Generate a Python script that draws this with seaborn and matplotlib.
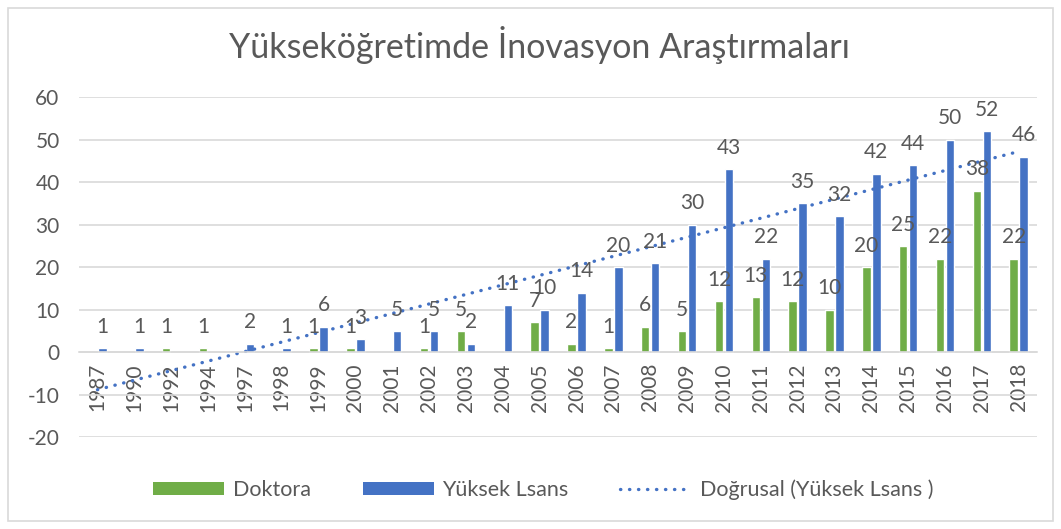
import matplotlib.pyplot as plt
import numpy as np
import pandas as pd
import seaborn as sns
from matplotlib.lines import Line2D
from matplotlib.patches import Patch, Rectangle


years = ["1987", "1990", "1992", "1994", "1997", "1998", "1999", "2000", "2001",
         "2002", "2003", "2004", "2005", "2006", "2007", "2008", "2009", "2010",
         "2011", "2012", "2013", "2014", "2015", "2016", "2017", "2018"]
doktora = [0, 0, 1, 1, 0, 0, 1, 1, 0, 1, 5, 0, 7, 2, 1, 6, 5, 12,
           13, 12, 10, 20, 25, 22, 38, 22]
yuksek_lisans = [1, 1, 0, 0, 2, 1, 6, 3, 5, 5, 2, 11, 10, 14, 20, 21, 30, 43,
                 22, 35, 32, 42, 44, 50, 52, 46]
series_names = ["Doktora", "Yüksek Lsans"]

GREEN = "#70AD47"
BLUE = "#4472C4"
TEXT = "#595959"
GRID = "#D9D9D9"

sns.set_theme(style="white")
plt.rcParams["font.family"] = ["Lato", "DejaVu Sans"]
plt.rcParams["axes.unicode_minus"] = False

long = pd.concat([
    pd.DataFrame({"year": years, "seri": series_names[0], "value": doktora}),
    pd.DataFrame({"year": years, "seri": series_names[1], "value": yuksek_lisans}),
])
long = long[long["value"] > 0]

fig = plt.figure(figsize=(10.61, 5.29), dpi=100)
ax = fig.add_axes([0.0745, 0.1739, 0.9030, 0.6427])

sns.barplot(data=long, x="year", y="value", hue="seri", order=years,
            hue_order=series_names, palette=[GREEN, BLUE], width=0.54, gap=0.15,
            saturation=1, ax=ax, legend=False)

for container in ax.containers:
    ax.bar_label(container, labels=[f"{b.get_height():.0f}" for b in container],
                 padding=8, fontsize=15, color=TEXT)

# linear trend of Yüksek Lisans (blank years counted as zero, like Excel)
sns.regplot(x=np.arange(len(years)), y=np.array(yuksek_lisans, dtype=float),
            scatter=False, ci=None, ax=ax,
            line_kws=dict(color=BLUE, linewidth=2.4, linestyle=(0, (0.1, 2.6)),
                          dash_capstyle="round"))

ax.set_xlim(-0.5, len(years) - 0.5)
ax.set_ylim(-20, 60)
ax.set_yticks(range(-20, 61, 10))
ax.yaxis.grid(True, color=GRID, linewidth=1.2)
ax.set_axisbelow(True)
for side in ["left", "right", "top"]:
    ax.spines[side].set_visible(False)
ax.spines["bottom"].set_position(("data", 0))
ax.spines["bottom"].set_color(GRID)
ax.spines["bottom"].set_linewidth(1.2)
ax.set_xticks(range(len(years)))
ax.set_xticklabels(years, rotation=90)
ax.tick_params(axis="x", length=0, pad=8, labelsize=15, labelcolor=TEXT)
ax.tick_params(axis="y", length=0, pad=14, labelsize=15, labelcolor=TEXT)
ax.set_xlabel("")
ax.set_ylabel("")

fig.text(0.508, 0.915, "Yükseköğretimde İnovasyon Araştırmaları", ha="center",
         va="center", fontsize=24.5, color=TEXT)

handles = [
    Patch(facecolor=GREEN, edgecolor="none"),
    Patch(facecolor=BLUE, edgecolor="none"),
    Line2D([0], [0], color=BLUE, linewidth=2.4, linestyle=(0, (0.1, 2.6)),
           dash_capstyle="round"),
]
labels = ["Doktora", "Yüksek Lsans", "Doğrusal (Yüksek Lsans )"]
fig.legend(handles, labels, loc="center", bbox_to_anchor=(0.512, 0.074), ncol=3,
           frameon=False, fontsize=15.5, handlelength=3.3, handleheight=0.55,
           handletextpad=0.4, columnspacing=2.4, labelcolor=TEXT)

fig.patches.append(Rectangle((0.008, 0.015), 0.984, 0.97, transform=fig.transFigure,
                             fill=False, edgecolor=GRID, linewidth=1.2))

fig.savefig("out.png", dpi=100)
